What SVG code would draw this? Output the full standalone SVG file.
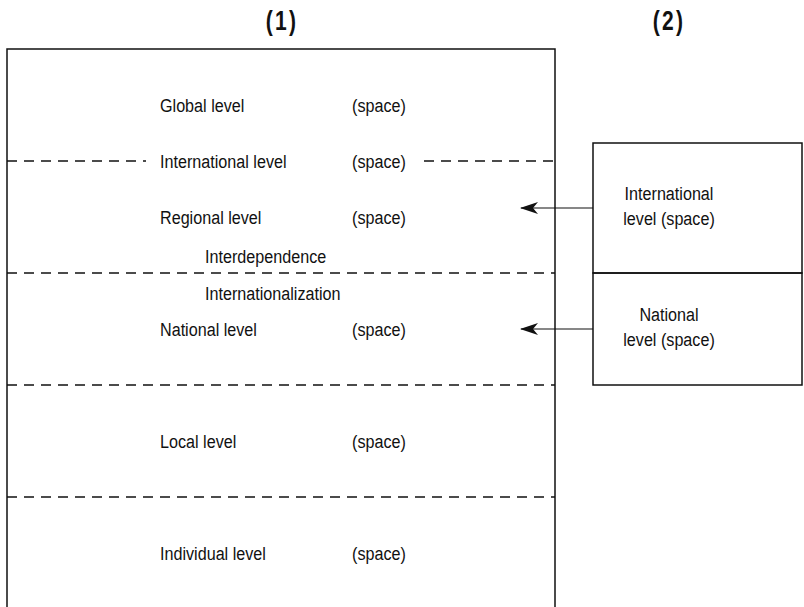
<svg xmlns="http://www.w3.org/2000/svg" width="804" height="607" viewBox="0 0 804 607">
<defs>
<style>
.t{font-family:"Liberation Sans",Arial,sans-serif;font-size:19px;fill:#111}
.h{font-family:"Liberation Sans",Arial,sans-serif;font-size:28px;font-weight:bold;fill:#111}
.box{fill:none;stroke:#111;stroke-width:1.5}
.dash{stroke:#111;stroke-width:1.3;stroke-dasharray:10 7;fill:none}
.arr{stroke:#111;stroke-width:1.2;fill:none}
</style>
<marker id="ah" viewBox="0 0 18 12" refX="17" refY="6" markerWidth="18" markerHeight="12" markerUnits="userSpaceOnUse" orient="auto">
<path d="M0,0 L18,6 L0,12 L5,6 Z" fill="#111"/>
</marker>
</defs>
<rect width="804" height="607" fill="#fff"/>
<g id="headings">
<text class="h" transform="translate(282,30) scale(0.75,1)" text-anchor="middle" letter-spacing="3">(1)</text>
<text class="h" transform="translate(669,30) scale(0.75,1)" text-anchor="middle" letter-spacing="3">(2)</text>
</g>
<g id="box1">
<path class="box" d="M7,607 V49 H555 V607"/>
<line class="dash" x1="7" y1="161" x2="146" y2="161"/>
<line class="dash" x1="424" y1="161" x2="555" y2="161"/>
<line class="dash" x1="7" y1="273" x2="555" y2="273"/>
<line class="dash" x1="7" y1="385" x2="555" y2="385"/>
<line class="dash" x1="7" y1="497" x2="555" y2="497"/>
</g>
<g id="global"><text class="t" transform="translate(160,112) scale(0.85,1)">Global level</text><text class="t" transform="translate(352,112) scale(0.85,1)">(space)</text></g>
<g id="international"><text class="t" transform="translate(160,168) scale(0.85,1)">International level</text><text class="t" transform="translate(352,168) scale(0.85,1)">(space)</text></g>
<g id="regional"><text class="t" transform="translate(160,224) scale(0.85,1)">Regional level</text><text class="t" transform="translate(352,224) scale(0.85,1)">(space)</text></g>
<g id="interdependence"><text class="t" transform="translate(205,263) scale(0.85,1)">Interdependence</text></g>
<g id="internationalization"><text class="t" transform="translate(205,300) scale(0.85,1)">Internationalization</text></g>
<g id="national"><text class="t" transform="translate(160,336) scale(0.85,1)">National level</text><text class="t" transform="translate(352,336) scale(0.85,1)">(space)</text></g>
<g id="local"><text class="t" transform="translate(160,448) scale(0.85,1)">Local level</text><text class="t" transform="translate(352,448) scale(0.85,1)">(space)</text></g>
<g id="individual"><text class="t" transform="translate(160,560) scale(0.85,1)">Individual level</text><text class="t" transform="translate(352,560) scale(0.85,1)">(space)</text></g>
<g id="box2-international">
<rect class="box" x="593" y="143" width="209" height="130"/>
<text class="t" text-anchor="middle" transform="translate(669,200) scale(0.85,1)">International</text>
<text class="t" text-anchor="middle" transform="translate(669,225) scale(0.85,1)">level (space)</text>
</g>
<g id="box2-national">
<rect class="box" x="593" y="273" width="209" height="112"/>
<text class="t" text-anchor="middle" transform="translate(669,321) scale(0.85,1)">National</text>
<text class="t" text-anchor="middle" transform="translate(669,346) scale(0.85,1)">level (space)</text>
</g>
<g id="connectors">
<line class="arr" x1="593" y1="208" x2="521" y2="208" marker-end="url(#ah)"/>
<line class="arr" x1="593" y1="329" x2="521" y2="329" marker-end="url(#ah)"/>
</g>
</svg>
